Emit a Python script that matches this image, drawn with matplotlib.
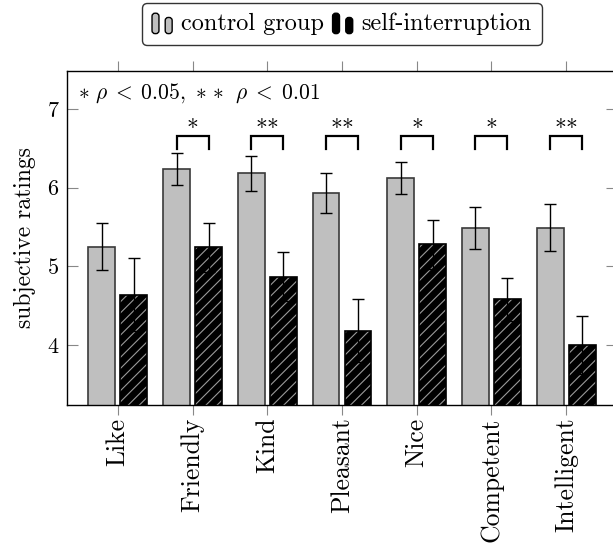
import numpy as np
import matplotlib
matplotlib.use("Agg")
import matplotlib.pyplot as plt
from matplotlib.patches import FancyBboxPatch
from matplotlib.legend_handler import HandlerBase

plt.rcParams['font.family'] = ['cmr10', 'DejaVu Serif']
plt.rcParams['mathtext.fontset'] = 'cm'
plt.rcParams['axes.formatter.use_mathtext'] = True
plt.rcParams['hatch.linewidth'] = 0.8

categories = ["Like", "Friendly", "Kind", "Pleasant", "Nice", "Competent", "Intelligent"]
control_mean = [5.25, 6.24, 6.18, 5.93, 6.12, 5.49, 5.49]
control_err = [0.30, 0.20, 0.22, 0.25, 0.20, 0.27, 0.30]
self_mean = [4.64, 5.24, 4.87, 4.18, 5.28, 4.58, 4.00]
self_err = [0.46, 0.31, 0.31, 0.40, 0.31, 0.27, 0.37]
significance = ["", "*", "**", "**", "*", "*", "**"]
ytick_values = [4, 5, 6, 7]

fig = plt.figure(figsize=(6.13, 5.43), dpi=100)
ax = fig.add_axes([67/613, 1-405/543, 550/613, 334/543])

x = np.arange(len(categories))
off = 0.214
w = 0.36
ctrl_gray = '#bfbfbf'

ax.bar(x - off, control_mean, w, color=ctrl_gray, edgecolor='#3a3a3a', linewidth=1.2, zorder=2)
ax.bar(x + off, self_mean, w, color='black', edgecolor='#9a9a9a', linewidth=0, hatch='///', zorder=2)
ax.bar(x + off, self_mean, w, fill=False, edgecolor='black', linewidth=1.2, zorder=3)

ax.errorbar(x - off, control_mean, yerr=control_err, fmt='none', ecolor='black',
            elinewidth=1.0, capsize=4.5, capthick=1.0, zorder=4)
ax.errorbar(x + off, self_mean, yerr=self_err, fmt='none', ecolor='black',
            elinewidth=1.0, capsize=4.5, capthick=1.0, zorder=4)

for i, s in enumerate(significance):
    if not s:
        continue
    ax.plot([i - off, i - off, i + off, i + off], [6.49, 6.66, 6.66, 6.49],
            color='black', linewidth=1.6, solid_joinstyle='miter', zorder=5)
    ax.text(i, 6.84, '$' + '{\\ast}' * len(s) + '$', ha='center', va='center', fontsize=17)

ax.text(0.02, 0.934, r'$\ast\ \rho\;<\;0.05,\ {\ast}\ {\ast}\ \ \rho\;<\;0.01$', transform=ax.transAxes,
        ha='left', va='center', fontsize=15.5)

ax.set_xlim(-0.68, len(categories) - 1 + 0.68)
ax.set_ylim(3.237, 7.483)
ax.set_yticks(ytick_values)
ax.set_yticklabels([str(v) for v in ytick_values], fontsize=16)
ax.set_xticks(x)
ax.set_xticklabels(categories, rotation=90, fontsize=18.5)
ax.tick_params(axis='x', direction='out', length=7, width=0.8, color='#888888',
               top=True, bottom=True, pad=2)
ax.tick_params(axis='y', direction='in', length=8, width=0.8, color='#888888',
               left=True, right=True, pad=6)
for sp in ax.spines.values():
    sp.set_linewidth(1.0)
ax.set_ylabel('subjective ratings', fontsize=17, labelpad=8)


class HandlerTwoBars(HandlerBase):
    def __init__(self, face, hatch=None):
        super().__init__()
        self.face = face
        self.hatch = hatch

    def create_artists(self, legend, orig_handle, xdescent, ydescent, width, height, fontsize, trans):
        arts = []
        bw = 5
        for hx, hh in [(0, height * 1.2), (bw + 4.5, height * 0.95)]:
            p = FancyBboxPatch((hx - xdescent, -ydescent - 0.2 * height), bw, hh,
                               boxstyle='round,pad=0,rounding_size=2.2',
                               facecolor=self.face, edgecolor='black', linewidth=1.0,
                               transform=trans)
            if self.hatch:
                p.set_hatch(self.hatch)
            arts.append(p)
        return arts


h1 = plt.Rectangle((0, 0), 1, 1)
h2 = plt.Rectangle((0, 1), 1, 1)
leg = fig.legend([h1, h2], ['control group', 'self-interruption'],
                 handler_map={h1: HandlerTwoBars(ctrl_gray), h2: HandlerTwoBars('black', '///')},
                 loc='upper center', bbox_to_anchor=(342/613, 1 - 3/543), ncol=2,
                 fontsize=17.5, frameon=True, fancybox=True, edgecolor='black',
                 handlelength=0.85, handletextpad=0.35, columnspacing=0.35,
                 borderpad=0.4, borderaxespad=0)
leg.get_frame().set_linewidth(1.0)
leg.get_frame().set_boxstyle('round,pad=0,rounding_size=0.2')

fig.savefig('out.png', dpi=100)
